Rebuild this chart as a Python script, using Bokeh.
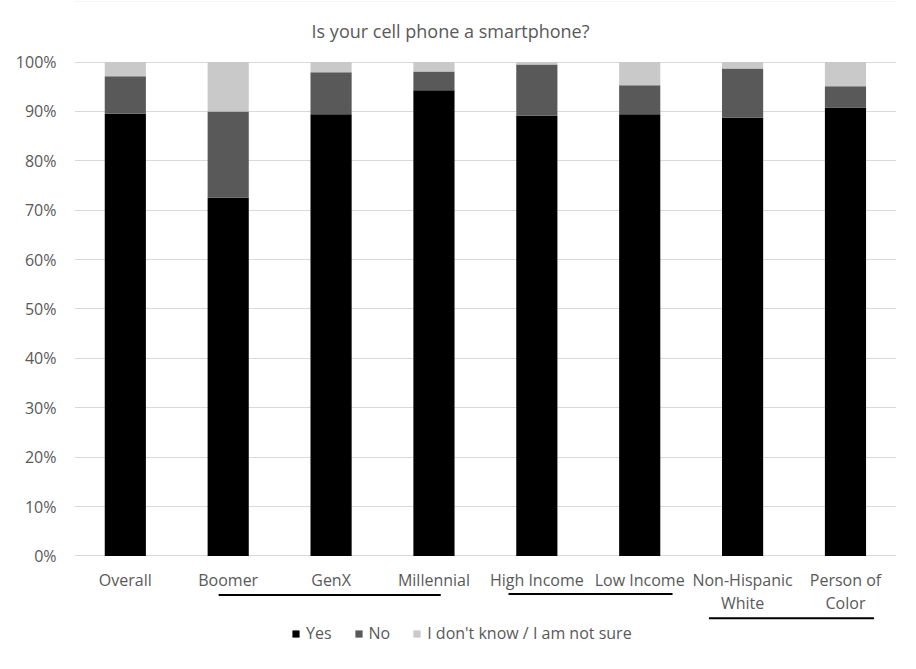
from bokeh.plotting import figure
from bokeh.models import ColumnDataSource, Range1d, FixedTicker, PrintfTickFormatter, Legend, LegendItem, Label
from bokeh.core.properties import value
from bokeh.embed import file_html
from bokeh.resources import INLINE

# ---- data ----
categories = ["Overall", "Boomer", "GenX", "Millennial", "High Income",
              "Low Income", "Non-Hispanic White", "Person of Color"]
tick_labels = ["Overall", "Boomer", "GenX", "Millennial", "High Income",
               "Low Income", "Non-Hispanic\nWhite", "Person of\nColor"]
yes = [89.5, 72.5, 89.4, 94.3, 89.1, 89.4, 88.7, 90.8]
no = [7.6, 17.5, 8.5, 3.8, 10.4, 5.9, 10.0, 4.3]
unsure = [2.9, 10.0, 2.1, 1.9, 0.5, 4.7, 1.3, 4.9]
series_keys = ["yes", "no", "unsure"]
series_labels = ["Yes", "No", "I don't know / I am not sure"]
series_colors = ["#000000", "#595959", "#c9c9c9"]
y_ticks = [0, 10, 20, 30, 40, 50, 60, 70, 80, 90, 100]
title_text = "Is your cell phone a smartphone?"

FONT = "Open Sans"
GREY = "#595959"

idx = list(range(len(categories)))
src = ColumnDataSource(dict(x=idx, yes=yes, no=no, unsure=unsure))

p = figure(width=900, height=653, output_backend="svg", toolbar_location=None,
           x_range=Range1d(-0.494, 7.496), y_range=Range1d(-19.56, 112.25),
           x_axis_location=None, min_border_left=74, min_border_right=4,
           min_border_top=1, min_border_bottom=1)
p.outline_line_color = None
p.background_fill_color = "white"
p.border_fill_color = "white"
p.styles = {"outline": "1px solid #d9d9d9", "outline-offset": "-2px"}

renderers = p.vbar_stack(series_keys, x="x", width=0.4, color=series_colors,
                         line_width=0, source=src)

# y axis
p.yaxis.ticker = FixedTicker(ticks=y_ticks)
p.yaxis.formatter = PrintfTickFormatter(format="%d%%")
p.yaxis.axis_line_color = None
p.yaxis.major_tick_line_color = None
p.yaxis.minor_tick_line_color = None
p.yaxis.major_tick_in = 0
p.yaxis.major_tick_out = 0
p.yaxis.major_label_standoff = 18
p.yaxis.major_label_text_font = FONT
p.yaxis.major_label_text_font_size = "16px"
p.yaxis.major_label_text_color = GREY
p.ygrid.ticker = FixedTicker(ticks=y_ticks)
p.ygrid.grid_line_color = "#d9d9d9"
p.ygrid.grid_line_width = 1
p.xgrid.visible = False

# category labels
p.text(x=idx, y=[-2.6] * len(idx), text=tick_labels, text_align="center",
       text_baseline="top", text_font=value(FONT), text_font_size="16px",
       text_color=GREY, text_line_height=1.07)

# group underlines
pos = {c: i for i, c in enumerate(categories)}
ux0 = [pos["Boomer"] - 0.093, pos["High Income"] - 0.275, pos["Non-Hispanic White"] - 0.327]
ux1 = [pos["Millennial"] + 0.066, pos["Low Income"] + 0.319, pos["Person of Color"] + 0.277]
uy = [-7.9, -7.7, -12.65]
p.segment(x0=ux0, y0=uy, x1=ux1, y1=uy, line_color="black", line_width=2)

# legend
legend = Legend(items=[LegendItem(label=l, renderers=[r]) for l, r in zip(series_labels, renderers)],
                orientation="horizontal", location=(217, 8), glyph_width=9, glyph_height=9,
                label_standoff=6, spacing=22, padding=0, margin=0,
                border_line_color=None, background_fill_alpha=0,
                label_text_font=FONT, label_text_font_size="16px",
                label_text_color=GREY, label_height=18)
p.add_layout(legend)

# title
p.add_layout(Label(x=3.161, y=106.3, text=title_text,
                   text_align="center", text_baseline="middle", text_font=FONT,
                   text_font_size="18px", text_color=GREY))

open("out.html", "w").write(file_html(p, INLINE))
